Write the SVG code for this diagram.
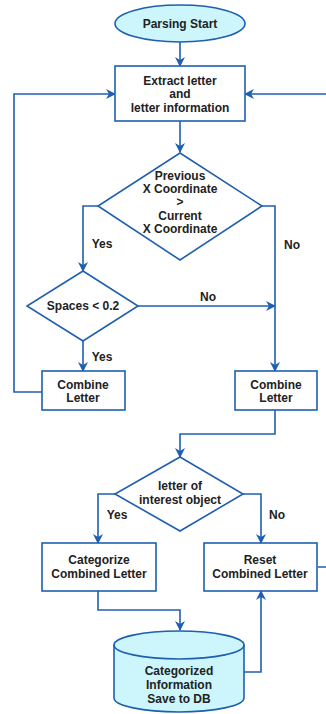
<svg xmlns="http://www.w3.org/2000/svg" width="326" height="714" viewBox="0 0 326 714">
  <style>
    .shape { fill: #ffffff; stroke: #1f5fb0; stroke-width: 1.6; }
    .term { fill: #ccf6fc; stroke: #1f5fb0; stroke-width: 1.6; }
    .edge { fill: none; stroke: #1f5fb0; stroke-width: 1.6; }
    .lbl { font-family: "Liberation Sans", Arial, sans-serif; font-size: 12px; font-weight: bold; fill: #222222; text-anchor: middle; }
  </style>
  <defs>
    <marker id="arrow" viewBox="0 0 10 10" refX="9" refY="5" markerWidth="10" markerHeight="10" markerUnits="userSpaceOnUse" orient="auto">
      <path d="M0,0 L10,5 L0,10 L3,5 z" fill="#1f5fb0"/>
    </marker>
  </defs>

  <!-- connectors -->
  <g id="connectors">
    <path class="edge" d="M180,42 L180,66" marker-end="url(#arrow)"/>
    <path class="edge" d="M180,121 L180,152" marker-end="url(#arrow)"/>
    <path class="edge" d="M98,206 L83,206 L83,271" marker-end="url(#arrow)"/>
    <path class="edge" d="M262,206 L275,206 L275,371" marker-end="url(#arrow)"/>
    <path class="edge" d="M138,306 L275,306" marker-end="url(#arrow)"/>
    <path class="edge" d="M83,341 L83,371" marker-end="url(#arrow)"/>
    <path class="edge" d="M42,392 L14,392 L14,94 L115,94" marker-end="url(#arrow)"/>
    <path class="edge" d="M275,410 L275,434 L180,434 L180,457" marker-end="url(#arrow)"/>
    <path class="edge" d="M115,494 L98,494 L98,543" marker-end="url(#arrow)"/>
    <path class="edge" d="M243,494 L261,494 L261,543" marker-end="url(#arrow)"/>
    <path class="edge" d="M98,591 L98,610 L180,610 L180,630" marker-end="url(#arrow)"/>
    <path class="edge" d="M244,672 L261,672 L261,591" marker-end="url(#arrow)"/>
    <path class="edge" d="M318,567 L332,567 L332,94 L245,94" marker-end="url(#arrow)"/>
    <text class="lbl" x="102" y="248">Yes</text>
    <text class="lbl" x="292" y="249">No</text>
    <text class="lbl" x="208" y="301">No</text>
    <text class="lbl" x="102" y="361">Yes</text>
    <text class="lbl" x="117" y="519">Yes</text>
    <text class="lbl" x="277" y="519">No</text>
  </g>

  <g id="start">
    <ellipse class="term" cx="180" cy="23.5" rx="65" ry="18.5"/>
    <text class="lbl" x="180" y="28">Parsing Start</text>
  </g>

  <g id="extract">
    <rect class="shape" x="115" y="66" width="130" height="55"/>
    <text class="lbl" x="180" y="85">Extract letter</text>
    <text class="lbl" x="180" y="98">and</text>
    <text class="lbl" x="180" y="112">letter information</text>
  </g>

  <g id="compare-x">
    <polygon class="shape" points="180,153 262,206 180,260 98,206"/>
    <text class="lbl" x="180" y="180">Previous</text>
    <text class="lbl" x="180" y="193">X Coordinate</text>
    <text class="lbl" x="180" y="206">&gt;</text>
    <text class="lbl" x="180" y="220">Current</text>
    <text class="lbl" x="180" y="233">X Coordinate</text>
  </g>

  <g id="spaces">
    <polygon class="shape" points="83,271 138,306 83,341 27,306"/>
    <text class="lbl" x="83" y="310">Spaces &lt; 0.2</text>
  </g>

  <g id="combine-left">
    <rect class="shape" x="42" y="371" width="83" height="39"/>
    <text class="lbl" x="83" y="389">Combine</text>
    <text class="lbl" x="83" y="402">Letter</text>
  </g>

  <g id="combine-right">
    <rect class="shape" x="235" y="371" width="82" height="39"/>
    <text class="lbl" x="276" y="389">Combine</text>
    <text class="lbl" x="276" y="402">Letter</text>
  </g>

  <g id="interest">
    <polygon class="shape" points="180,457 243,494 180,531 115,494"/>
    <text class="lbl" x="180" y="490">letter of</text>
    <text class="lbl" x="180" y="504">interest object</text>
  </g>

  <g id="categorize">
    <rect class="shape" x="42" y="543" width="114" height="48"/>
    <text class="lbl" x="99" y="564">Categorize</text>
    <text class="lbl" x="99" y="578">Combined Letter</text>
  </g>

  <g id="reset">
    <rect class="shape" x="204" y="543" width="113" height="48"/>
    <text class="lbl" x="260" y="564">Reset</text>
    <text class="lbl" x="260" y="578">Combined Letter</text>
  </g>

  <g id="database">
    <path class="term" d="M114,645 L114,698 A65,14 0 0 0 244,698 L244,645 A65,14 0 0 0 114,645 Z"/>
    <path class="edge" d="M114,645 A65,14 0 0 0 244,645"/>
    <text class="lbl" x="179" y="675">Categorized</text>
    <text class="lbl" x="179" y="689">Information</text>
    <text class="lbl" x="179" y="703">Save to DB</text>
  </g>
</svg>
